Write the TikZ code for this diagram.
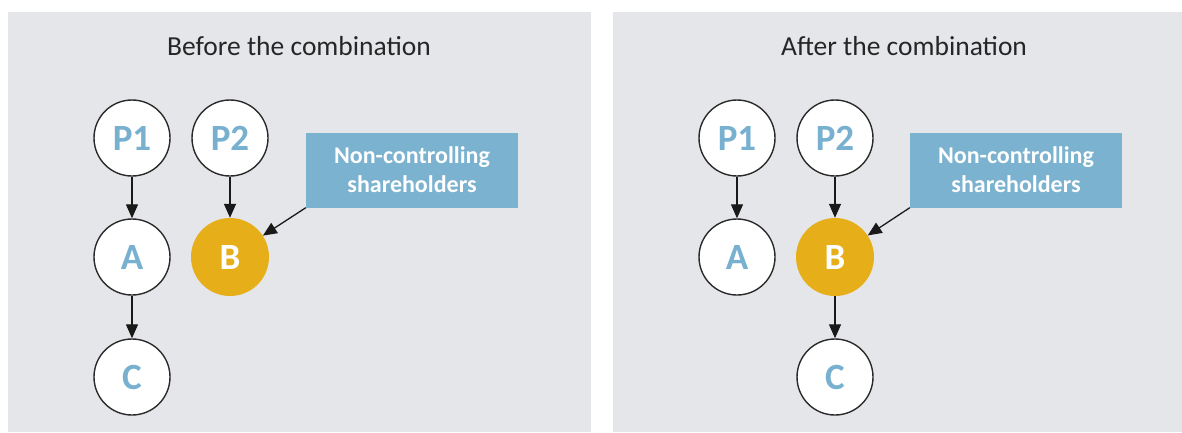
\documentclass[tikz,border=0pt]{standalone}
\usepackage{fontspec}
\setmainfont{Carlito}
\usetikzlibrary{arrows.meta}
\definecolor{panelgrey}{HTML}{E5E6EA}
\definecolor{nodeblue}{HTML}{78B1D0}
\definecolor{boxblue}{HTML}{7AB2CF}
\definecolor{gold}{HTML}{E6AE18}
\definecolor{ringgrey}{HTML}{2A2A2A}
\tikzset{
  panel/.style={fill=panelgrey, draw=none},
  title/.style={font=\fontsize{27.5}{30}\selectfont, text=black!85},
  entity/.style={circle, draw=ringgrey, line width=1.4pt, fill=white, minimum size=76pt, inner sep=0pt,
    text=nodeblue, font=\fontsize{37}{40}\selectfont\bfseries},
  target/.style={circle, draw=none, fill=gold, minimum size=78pt, inner sep=0pt,
    text=white, font=\fontsize{37}{40}\selectfont\bfseries},
  nci/.style={rectangle, fill=boxblue, draw=none, minimum width=212pt, minimum height=75pt,
    text=white, align=center, font=\fontsize{24}{29}\selectfont\bfseries},
  link/.style={-{Triangle[length=14pt,width=12pt]}, line width=1.3pt, draw=black!90}
}
\begin{document}
\begin{tikzpicture}[x=1pt,y=-1pt]
\useasboundingbox (0,0) rectangle (1182,432);
\fill[white] (0,0) rectangle (1182,432);
% panels
\path[panel] (8,12) rectangle (591,432);
\path[panel] (613,12) rectangle (1182,432);
% left panel
\node[title] (t1) at (299,46) {Before the combination};
\node[entity] (p1) at (132,138) {P1};
\node[entity] (p2) at (230,138) {P2};
\node[entity] (a) at (132,257) {A};
\node[target] (b) at (230,257) {B};
\node[entity] (c) at (132,377) {C};
\node[nci] (n1) at (412,170) {Non-controlling\\shareholders};
\draw[link] (p1) -- (a);
\draw[link] (a) -- (c);
\draw[link] (p2) -- (b);
\draw[link] (n1.south west) -- (b);
% right panel
\node[title] (t2) at (904,46) {After the combination};
\node[entity] (q1) at (737,138) {P1};
\node[entity] (q2) at (835,138) {P2};
\node[entity] (qa) at (737,257) {A};
\node[target] (qb) at (835,257) {B};
\node[entity] (qc) at (835,377) {C};
\node[nci] (n2) at (1016,170) {Non-controlling\\shareholders};
\draw[link] (q1) -- (qa);
\draw[link] (q2) -- (qb);
\draw[link] (qb) -- (qc);
\draw[link] (n2.south west) -- (qb);
\end{tikzpicture}
\end{document}
